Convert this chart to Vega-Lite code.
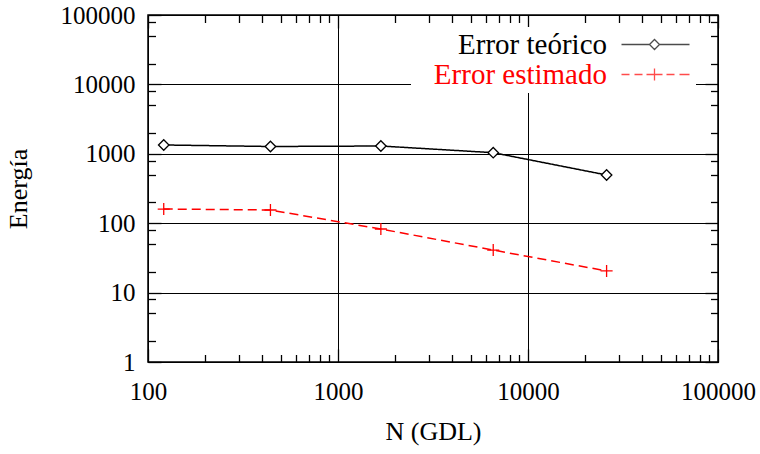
{
  "$schema": "https://vega.github.io/schema/vega-lite/v6.json",
  "width": 570,
  "height": 347,
  "autosize": "none",
  "padding": {"left": 148, "top": 15, "right": 42, "bottom": 92},
  "background": "white",
  "config": {
    "view": {"stroke": "black", "strokeWidth": 1.5},
    "font": "Liberation Serif",
    "axis": {
      "labelFont": "Liberation Serif", "labelFontSize": 25, "labelColor": "black",
      "titleFont": "Liberation Serif", "titleFontSize": 26, "titleColor": "black", "titleFontWeight": "normal",
      "tickColor": "black", "tickWidth": 1.3, "domain": false,
      "gridColor": "black", "gridWidth": 1, "gridOpacity": 1,
      "labelFlush": false, "labelOverlap": false
    }
  },
  "datasets": {
    "pts": [
      {"N": 121, "E": 1340, "serie": "Error teórico"},
      {"N": 441, "E": 1274, "serie": "Error teórico"},
      {"N": 1681, "E": 1295, "serie": "Error teórico"},
      {"N": 6561, "E": 1038, "serie": "Error teórico"},
      {"N": 25921, "E": 495, "serie": "Error teórico"},
      {"N": 121, "E": 160, "serie": "Error estimado"},
      {"N": 441, "E": 155, "serie": "Error estimado"},
      {"N": 1681, "E": 82.5, "serie": "Error estimado"},
      {"N": 6561, "E": 41, "serie": "Error estimado"},
      {"N": 25921, "E": 20.5, "serie": "Error estimado"}
    ]
  },
  "data": {"name": "pts"},
  "layer": [
    {
      "mark": {"type": "line", "strokeWidth": 1.5},
      "encoding": {
        "x": {"field": "N", "type": "quantitative", "scale": {"type": "log", "domain": [100, 100000]},
          "axis": {"orient": "bottom", "values": [100, 1000, 10000, 100000], "format": "d", "ticks": false, "grid": true, "labelPadding": 17, "title": "N (GDL)", "titleY": 69, "titleBaseline": "middle"}},
        "y": {"field": "E", "type": "quantitative", "scale": {"type": "log", "domain": [1, 100000]},
          "axis": {"orient": "left", "values": [1, 10, 100, 1000, 10000, 100000], "format": "d", "ticks": false, "grid": true, "labelPadding": 13, "title": "Energía", "titleX": -130, "titleY": 173.5, "titleBaseline": "middle"}},
        "color": {"field": "serie", "type": "nominal", "scale": {"domain": ["Error teórico", "Error estimado"], "range": ["black", "red"]}, "legend": null},
        "strokeDash": {"field": "serie", "type": "nominal", "scale": {"domain": ["Error teórico", "Error estimado"], "range": [[1, 0], [9, 5]]}, "legend": null}
      }
    },
    {
      "mark": {"type": "point", "fill": "white", "strokeWidth": 1.3, "size": 110, "opacity": 1},
      "encoding": {
        "x": {"field": "N", "type": "quantitative", "axis": {"orient": "bottom", "values": [100, 1000, 10000, 100000], "labels": false, "grid": false, "tickSize": -13, "title": null}},
        "y": {"field": "E", "type": "quantitative", "axis": {"orient": "left", "values": [1, 10, 100, 1000, 10000, 100000], "labels": false, "grid": false, "tickSize": -13, "title": null}},
        "shape": {"field": "serie", "type": "nominal", "scale": {"domain": ["Error teórico", "Error estimado"], "range": ["M-1,0L0,-1L1,0L0,1Z", "M-1.15,0H1.15M0,-1.15V1.15"]}, "legend": null},
        "stroke": {"field": "serie", "type": "nominal", "scale": {"domain": ["Error teórico", "Error estimado"], "range": ["black", "red"]}, "legend": null}
      }
    },
    {
      "transform": [{"filter": "false"}],
      "mark": {"type": "point"},
      "encoding": {
        "x": {"field": "N", "type": "quantitative", "axis": {"orient": "bottom", "values": [200, 300, 400, 500, 600, 700, 800, 900, 2000, 3000, 4000, 5000, 6000, 7000, 8000, 9000, 20000, 30000, 40000, 50000, 60000, 70000, 80000, 90000], "labels": false, "grid": false, "tickSize": -7.5, "title": null}},
        "y": {"field": "E", "type": "quantitative", "axis": {"orient": "left", "values": [2, 5, 8, 20, 50, 80, 200, 500, 800, 2000, 5000, 8000, 20000, 50000, 80000], "labels": false, "grid": false, "tickSize": -7.5, "title": null}},
        "shape": {"field": "serie", "type": "nominal",
          "scale": {"domain": ["Error teórico", "Error estimado"], "range": ["M38.6,0H44.2M46.2,0H52.2M44.2,0L45.2,-1L46.2,0L45.2,1Z", "M38.6,0H40.2M41.2,0H42.8M43.6,0H46.8M47.6,0H49.2M50.2,0H52.2M45.2,-1.2V1.2"]},
          "legend": {
            "title": null, "orient": "none", "legendX": 263, "legendY": 12, "padding": 3, "fillColor": "white",
            "labelOffset": 164, "labelAlign": "right", "labelFont": "Liberation Serif", "labelFontSize": 29, "labelLimit": 400,
            "labelColor": {"expr": "datum.value === 'Error estimado' ? 'red' : 'black'"},
            "symbolSize": 100, "symbolStrokeWidth": 1.3,
            "symbolStrokeColor": {"expr": "datum.value === 'Error estimado' ? 'red' : 'black'"},
            "symbolFillColor": "transparent", "rowPadding": 0
          }
        }
      }
    },
    {
      "transform": [{"filter": "false"}],
      "mark": {"type": "point"},
      "encoding": {
        "x": {"field": "N", "type": "quantitative", "axis": {"orient": "top", "values": [100, 1000, 10000, 100000], "labels": false, "grid": false, "tickSize": -13, "title": null}},
        "y": {"field": "E", "type": "quantitative", "axis": {"orient": "right", "values": [1, 10, 100, 1000, 10000, 100000], "labels": false, "grid": false, "tickSize": -13, "title": null}}
      }
    },
    {
      "transform": [{"filter": "false"}],
      "mark": {"type": "point"},
      "encoding": {
        "x": {"field": "N", "type": "quantitative", "axis": {"orient": "top", "values": [200, 300, 400, 500, 600, 700, 800, 900, 2000, 3000, 4000, 5000, 6000, 7000, 8000, 9000, 20000, 30000, 40000, 50000, 60000, 70000, 80000, 90000], "labels": false, "grid": false, "tickSize": -7.5, "title": null}},
        "y": {"field": "E", "type": "quantitative", "axis": {"orient": "right", "values": [2, 5, 8, 20, 50, 80, 200, 500, 800, 2000, 5000, 8000, 20000, 50000, 80000], "labels": false, "grid": false, "tickSize": -7.5, "title": null}}
      }
    }
  ],
  "resolve": {"scale": {"shape": "independent"}, "axis": {"x": "independent", "y": "independent"}}
}
